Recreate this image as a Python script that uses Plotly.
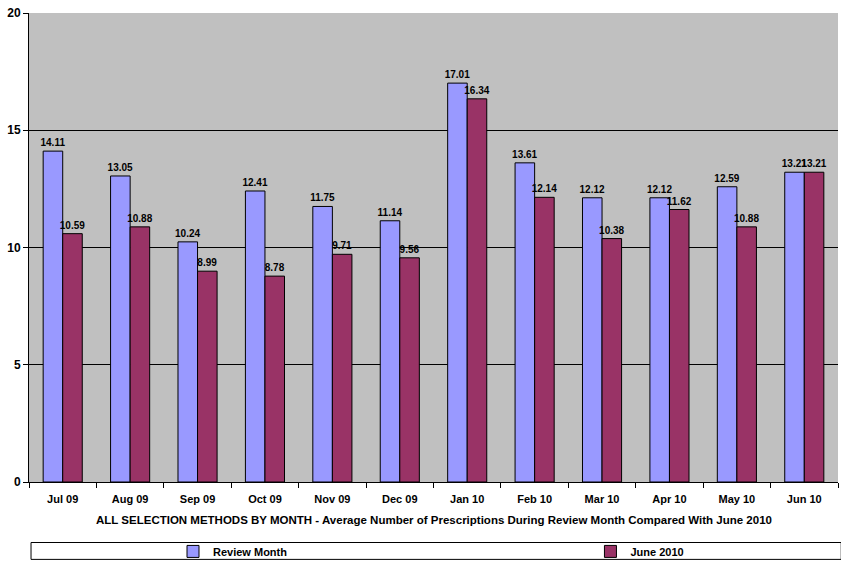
import plotly.graph_objects as go

months = ["Jul 09", "Aug 09", "Sep 09", "Oct 09", "Nov 09", "Dec 09",
          "Jan 10", "Feb 10", "Mar 10", "Apr 10", "May 10", "Jun 10"]
review_month = [14.11, 13.05, 10.24, 12.41, 11.75, 11.14, 17.01, 13.61, 12.12, 12.12, 12.59, 13.21]
june_2010 = [10.59, 10.88, 8.99, 8.78, 9.71, 9.56, 16.34, 12.14, 10.38, 11.62, 10.88, 13.21]
y_ticks = [0, 5, 10, 15, 20]

fig = go.Figure()
fig.add_trace(go.Bar(
    x=months, y=review_month, name="Review Month", legend="legend",
    marker=dict(color="#9999FF", line=dict(color="black", width=1)),
    text=[f"{v:.2f}" for v in review_month], textposition="outside",
    constraintext="none", cliponaxis=False,
    textfont=dict(family="Arial", size=10, color="black", weight="bold"),
))
fig.add_trace(go.Bar(
    x=months, y=june_2010, name="June 2010", legend="legend2",
    marker=dict(color="#993366", line=dict(color="black", width=1)),
    text=[f"{v:.2f}" for v in june_2010], textposition="outside",
    constraintext="none", cliponaxis=False,
    textfont=dict(family="Arial", size=10, color="black", weight="bold"),
))

leg_common = dict(orientation="h", yanchor="middle", y=-0.148, xanchor="left",
                  font=dict(family="Arial", size=11, color="black", weight="bold"),
                  bgcolor="rgba(0,0,0,0)", borderwidth=0, itemwidth=30,
                  itemclick=False, itemdoubleclick=False)

fig.update_layout(
    width=841, height=569,
    margin=dict(l=29, r=3, t=13, b=84),
    paper_bgcolor="white", plot_bgcolor="#C0C0C0",
    barmode="group", bargap=0.42, bargroupgap=0,
    font=dict(family="Arial", size=11, color="black"),
    showlegend=True,
    legend=dict(x=0.178, **leg_common),
    legend2=dict(x=0.694, **leg_common),
)
fig.update_xaxes(
    type="category", tickson="boundaries", ticks="outside", ticklen=5, tickcolor="black",
    showline=True, linecolor="black", linewidth=1, showgrid=False, automargin=False,
    tickfont=dict(family="Arial", size=11, weight="bold"), ticklabelstandoff=7,
)
fig.update_yaxes(
    range=[0, 20], tickvals=y_ticks, ticks="outside", ticklen=5, tickcolor="black",
    showline=True, linecolor="black", linewidth=1, automargin=False,
    showgrid=True, gridcolor="black", gridwidth=1, zeroline=False,
    tickfont=dict(family="Arial", size=12, weight="bold"),
)
fig.add_annotation(
    text="ALL SELECTION METHODS BY MONTH - Average Number of Prescriptions During Review Month Compared With June 2010",
    xref="paper", yref="paper", x=0.5, y=-0.0805, yanchor="middle", showarrow=False,
    font=dict(family="Arial", size=11.5, color="black", weight="bold"),
)
fig.add_shape(type="rect", xref="paper", yref="paper",
              x0=0.0025, x1=1.004, y0=-0.129, y1=-0.165,
              line=dict(color="black", width=1), fillcolor="rgba(0,0,0,0)")
fig.write_html("out.html")
